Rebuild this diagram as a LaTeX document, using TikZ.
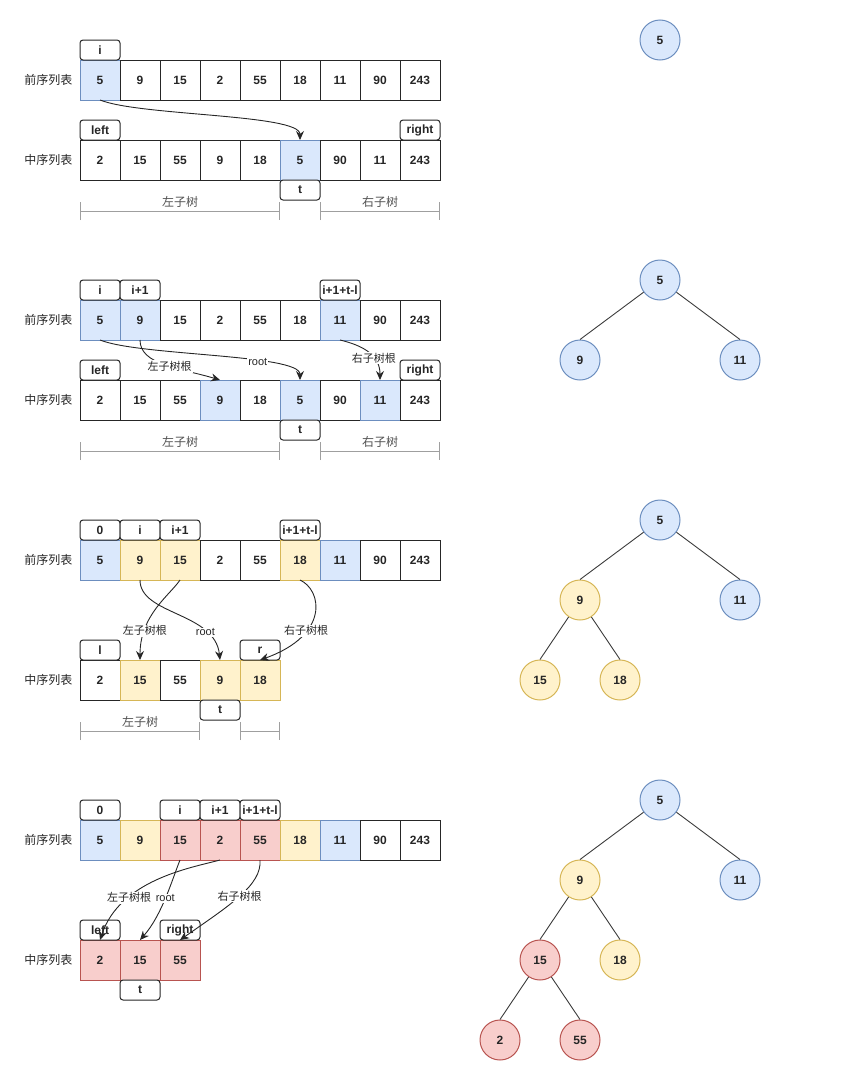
\documentclass[tikz,border=0pt]{standalone}
\usepackage{fontspec}
\setmainfont{Liberation Sans}
\newfontfamily\cjk{Noto Sans CJK SC}
\usepackage{tikz}
\usetikzlibrary{arrows.meta,positioning}
\usepackage{xcolor}
\definecolor{blueF}{HTML}{DAE8FC}
\definecolor{blueD}{HTML}{6C8EBF}
\definecolor{yelF}{HTML}{FFF2CC}
\definecolor{yelD}{HTML}{D6B656}
\definecolor{redF}{HTML}{F8CECC}
\definecolor{redD}{HTML}{B85450}
\definecolor{ink}{HTML}{262626}
\newcommand{\hanzi}[1]{{\cjk #1}}

\begin{document}
\begin{tikzpicture}[
  x=1pt, y=-1pt,
  >=Stealth,
  cell/.style={draw=ink, line width=1pt, minimum width=40pt, minimum height=40pt, inner sep=0pt, outer sep=0pt, text=ink, font=\fontsize{12}{14}\selectfont\bfseries},
  bcell/.style={cell, fill=blueF, draw=blueD},
  ycell/.style={cell, fill=yelF, draw=yelD},
  rcell/.style={cell, fill=redF, draw=redD},
  tag/.style={draw=ink, line width=1pt, rounded corners=3pt, minimum width=40pt, minimum height=20pt, inner sep=0pt, outer sep=0pt, fill=white, text=ink, font=\fontsize{12}{14}\selectfont\bfseries},
  rowlbl/.style={anchor=east, text=ink, font=\cjk\fontsize{12}{14}\selectfont},
  elbl/.style={fill=white, inner sep=1pt, text=ink, font=\fontsize{11}{13}\selectfont},
  link/.style={draw=ink, line width=0.9pt, -{Stealth[length=9pt,width=8pt]}},
  dim/.style={draw=gray!75, line width=0.8pt, {Bar[width=18pt]}-{Bar[width=18pt]}},
  dimlbl/.style={text=ink!80, font=\cjk\fontsize{12}{14}\selectfont},
  tnode/.style={circle, line width=1pt, minimum size=40pt, inner sep=0pt, text=ink, font=\fontsize{12}{14}\selectfont\bfseries},
  bt/.style={tnode, fill=blueF, draw=blueD},
  yt/.style={tnode, fill=yelF, draw=yelD},
  rt/.style={tnode, fill=redF, draw=redD},
  tedge/.style={draw=ink!90, line width=0.9pt}
]
\useasboundingbox (0,0) rectangle (867,1087);

% ---- step 1
\node[rowlbl] (pl1) at (76,80) {前序列表};
\node[rowlbl] (il1) at (76,160) {中序列表};
\foreach \v/\s [count=\k from 0] in {5/bcell,9/cell,15/cell,2/cell,55/cell,18/cell,11/cell,90/cell,243/cell}
  \node[\s] (pre1-\k) at ({100+40*\k},80) {\v};
\foreach \v/\s [count=\k from 0] in {2/cell,15/cell,55/cell,9/cell,18/cell,5/bcell,90/cell,11/cell,243/cell}
  \node[\s] (in1-\k) at ({100+40*\k},160) {\v};
\node[tag, above=0pt of pre1-0] (i1) {i};
\node[tag, above=0pt of in1-0] (left1) {left};
\node[tag, above=0pt of in1-8] (right1) {right};
\node[tag, below=0pt of in1-5] (t1) {t};
\draw[link] (pre1-0.south) .. controls (140,116) and (300,114) .. (in1-5.north);
\draw[dim] (80,211) -- (280,211);
\draw[dim] (320,211) -- (440,211);
\node[dimlbl] (ls1) at (180,202) {左子树};
\node[dimlbl] (rs1) at (380,202) {右子树};
\node[bt] (r1) at (660,40) {5};

% ---- step 2
\node[rowlbl] (pl2) at (76,320) {前序列表};
\node[rowlbl] (il2) at (76,400) {中序列表};
\foreach \v/\s [count=\k from 0] in {5/bcell,9/bcell,15/cell,2/cell,55/cell,18/cell,11/bcell,90/cell,243/cell}
  \node[\s] (pre2-\k) at ({100+40*\k},320) {\v};
\foreach \v/\s [count=\k from 0] in {2/cell,15/cell,55/cell,9/bcell,18/cell,5/bcell,90/cell,11/bcell,243/cell}
  \node[\s] (in2-\k) at ({100+40*\k},400) {\v};
\node[tag, above=0pt of pre2-0] (i2) {i};
\node[tag, above=0pt of pre2-1] (ia2) {i+1};
\node[tag, above=0pt of pre2-6] (ib2) {i+1+t-l};
\node[tag, above=0pt of in2-0] (left2) {left};
\node[tag, above=0pt of in2-8] (right2) {right};
\node[tag, below=0pt of in2-5] (t2) {t};
\draw[link] (pre2-0.south) .. controls (140,356) and (300,354) .. node[elbl, pos=0.67] {root} (in2-5.north);
\draw[link] (pre2-1.south) .. controls (140,365) and (180,368) .. node[elbl, pos=0.55] {\hanzi{左子树根}} (in2-3.north);
\draw[link] (pre2-6.south) .. controls (365,346) and (380,356) .. node[elbl, pos=0.62] {\hanzi{右子树根}} (in2-7.north);
\draw[dim] (80,451) -- (280,451);
\draw[dim] (320,451) -- (440,451);
\node[dimlbl] (ls2) at (180,442) {左子树};
\node[dimlbl] (rs2) at (380,442) {右子树};
\node[bt] (r2) at (660,280) {5};
\node[bt] (a2) at (580,360) {9};
\node[bt] (b2) at (740,360) {11};
\draw[tedge] (r2) -- (a2.north);
\draw[tedge] (r2) -- (b2.north);

% ---- step 3
\node[rowlbl] (pl3) at (76,560) {前序列表};
\node[rowlbl] (il3) at (76,680) {中序列表};
\foreach \v/\s [count=\k from 0] in {5/bcell,9/ycell,15/ycell,2/cell,55/cell,18/ycell,11/bcell,90/cell,243/cell}
  \node[\s] (pre3-\k) at ({100+40*\k},560) {\v};
\foreach \v/\s [count=\k from 0] in {2/cell,15/ycell,55/cell,9/ycell,18/ycell}
  \node[\s] (in3-\k) at ({100+40*\k},680) {\v};
\node[tag, above=0pt of pre3-0] (z3) {0};
\node[tag, above=0pt of pre3-1] (i3) {i};
\node[tag, above=0pt of pre3-2] (ia3) {i+1};
\node[tag, above=0pt of pre3-5] (ib3) {i+1+t-l};
\node[tag, above=0pt of in3-0] (l3) {l};
\node[tag, above=0pt of in3-4] (r3) {r};
\node[tag, below=0pt of in3-3] (t3) {t};
\draw[link] (pre3-1.south) .. controls (140,615) and (215,612) .. node[elbl, pos=0.75] {root} (in3-3.north);
\draw[link] (pre3-2.south) .. controls (170,595) and (140,615) .. node[elbl, pos=0.75] {\hanzi{左子树根}} (in3-1.north);
\draw[link] (pre3-5.south) .. controls (322,590) and (330,635) .. node[elbl, pos=0.67] {\hanzi{右子树根}} (in3-4.north);
\draw[dim] (80,731) -- (200,731);
\draw[dim] (240,731) -- (280,731);
\node[dimlbl] (ls3) at (140,722) {左子树};
\node[bt] (r3t) at (660,520) {5};
\node[yt] (a3) at (580,600) {9};
\node[bt] (b3) at (740,600) {11};
\node[yt] (c3) at (540,680) {15};
\node[yt] (d3) at (620,680) {18};
\draw[tedge] (r3t) -- (a3.north);
\draw[tedge] (r3t) -- (b3.north);
\draw[tedge] (a3) -- (c3.north);
\draw[tedge] (a3) -- (d3.north);

% ---- step 4
\node[rowlbl] (pl4) at (76,840) {前序列表};
\node[rowlbl] (il4) at (76,960) {中序列表};
\foreach \v/\s [count=\k from 0] in {5/bcell,9/ycell,15/rcell,2/rcell,55/rcell,18/ycell,11/bcell,90/cell,243/cell}
  \node[\s] (pre4-\k) at ({100+40*\k},840) {\v};
\foreach \v/\s [count=\k from 0] in {2/rcell,15/rcell,55/rcell}
  \node[\s] (in4-\k) at ({100+40*\k},960) {\v};
\node[tag, above=0pt of pre4-0] (z4) {0};
\node[tag, above=0pt of pre4-2] (i4) {i};
\node[tag, above=0pt of pre4-3] (ia4) {i+1};
\node[tag, above=0pt of pre4-4] (ib4) {i+1+t-l};
\node[tag, above=0pt of in4-0] (left4) {left};
\node[tag, above=0pt of in4-2] (right4) {right};
\node[tag, below=0pt of in4-1] (t4) {t};
\draw[link] (pre4-3.south) .. controls (190,868) and (120,880) .. node[elbl, pos=0.7] {\hanzi{左子树根}} (in4-0.north);
\draw[link] (pre4-2.south) .. controls (172,880) and (162,915) .. node[elbl, pos=0.5] {root} (in4-1.north);
\draw[link] (pre4-4.south) .. controls (262,885) and (230,905) .. node[elbl, pos=0.5] {\hanzi{右子树根}} (in4-2.north);
\node[bt] (r4) at (660,800) {5};
\node[yt] (a4) at (580,880) {9};
\node[bt] (b4) at (740,880) {11};
\node[rt] (c4) at (540,960) {15};
\node[yt] (d4) at (620,960) {18};
\node[rt] (e4) at (500,1040) {2};
\node[rt] (f4) at (580,1040) {55};
\draw[tedge] (r4) -- (a4.north);
\draw[tedge] (r4) -- (b4.north);
\draw[tedge] (a4) -- (c4.north);
\draw[tedge] (a4) -- (d4.north);
\draw[tedge] (c4) -- (e4.north);
\draw[tedge] (c4) -- (f4.north);
\end{tikzpicture}
\end{document}
